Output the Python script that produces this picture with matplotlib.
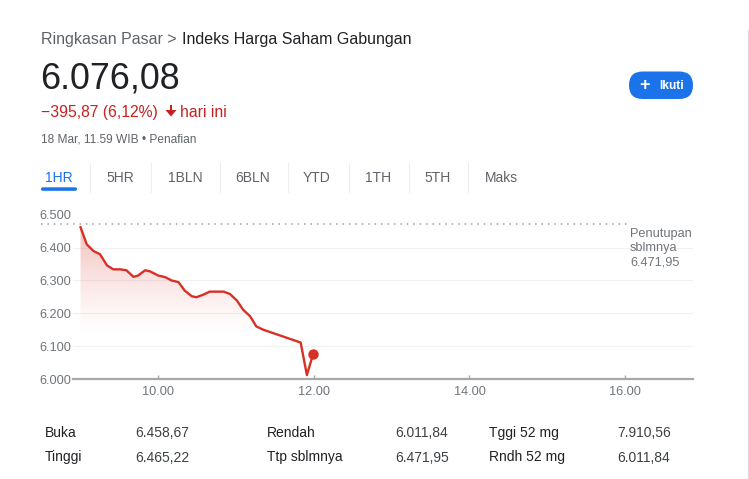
import numpy as np
import matplotlib
matplotlib.use("Agg")
import matplotlib.pyplot as plt
from matplotlib.patches import FancyBboxPatch, Polygon, Rectangle

plt.rcParams['font.family'] = ['Liberation Sans', 'DejaVu Sans']

# ---------------- data ----------------
times = [9.00, 9.08, 9.165, 9.25, 9.34, 9.42, 9.51, 9.59, 9.68, 9.74, 9.83, 9.89,
         10.00, 10.09, 10.17, 10.26, 10.34, 10.43, 10.49, 10.58, 10.66, 10.84, 10.92,
         11.01, 11.09, 11.18, 11.26, 11.35, 11.83, 11.91, 11.99]
values = [6462, 6410, 6390, 6380, 6346, 6334, 6334, 6331, 6311, 6315, 6331, 6328,
          6315, 6310, 6300, 6295, 6269, 6252, 6249, 6257, 6266, 6266, 6259,
          6239, 6211, 6191, 6160, 6150, 6111, 6012, 6076]
prev_close = 6471.95
y_ticks = [6000, 6100, 6200, 6300, 6400, 6500]
y_tick_labels = ['6.000', '6.100', '6.200', '6.300', '6.400', '6.500']
x_ticks = [10, 12, 14, 16]
x_tick_labels = ['10.00', '12.00', '14.00', '16.00']
tabs = ['1HR', '5HR', '1BLN', '6BLN', 'YTD', '1TH', '5TH', 'Maks']
stat_labels_row1 = ['Buka', 'Rendah', 'Tggi 52 mg']
stat_values_row1 = ['6.458,67', '6.011,84', '7.910,56']
stat_labels_row2 = ['Tinggi', 'Ttp sblmnya', 'Rndh 52 mg']
stat_values_row2 = ['6.465,22', '6.471,95', '6.011,84']

RED = '#d93025'
TXT_RED = '#c5221f'
GRAY = '#70757a'
DARK = '#202124'
BLUE = '#1a73e8'

W, H = 749, 479
fig = plt.figure(figsize=(W / 100, H / 100), dpi=100)
fig.patch.set_facecolor('white')

# ---------------- chart ----------------
x0, x1 = 8.903, 16.874
ax = fig.add_axes([73 / W, 1 - 379 / H, (693 - 73) / W, (379 - 214.8) / H])
ax.set_zorder(1)
ax.set_xlim(x0, x1)
ax.set_ylim(6000, 6500)
ax.patch.set_alpha(0)
for s in ['top', 'right', 'left']:
    ax.spines[s].set_visible(False)
ax.spines['bottom'].set_color('#a8a8a8')
ax.spines['bottom'].set_linewidth(1.6)

for yv in y_ticks[1:-1]:
    ax.plot([x0, x1], [yv, yv], color='#f1f1f1', lw=0.8, zorder=0)

ax.set_yticks(y_ticks)
ax.set_yticklabels(y_tick_labels)
ax.tick_params(axis='y', length=0, pad=1.2, labelsize=9.2, labelcolor=GRAY)
ax.set_xticks(x_ticks)
ax.set_xticklabels(x_tick_labels)
ax.tick_params(axis='x', direction='in', length=3, width=1, color='#a8a8a8',
               pad=5, labelsize=9.2, labelcolor=GRAY)

# gradient fill
poly = ax.fill_between(times, values, 6000, facecolor='none', edgecolor='none')
yy = np.linspace(6500, 6000, 300)
alpha = np.clip((yy - 6130) / (6470 - 6130), 0, 1) ** 1.3 * 0.32
grad = np.zeros((300, 2, 4))
grad[..., 0] = 217 / 255
grad[..., 1] = 48 / 255
grad[..., 2] = 37 / 255
grad[..., 3] = alpha[:, None]
im = ax.imshow(grad, extent=[x0, x1, 6000, 6500], aspect='auto', origin='upper', zorder=1)
im.set_clip_path(poly.get_paths()[0], transform=ax.transData)

ax.plot(times, values, color=RED, lw=1.7, zorder=3, solid_joinstyle='round')
ax.plot([times[-1]], [values[-1]], 'o', color=RED, markersize=6.5, zorder=4)

# previous close dotted line
ax.plot([8.492, 16.04], [prev_close, prev_close], color='#9aa0a6', lw=1.1,
        linestyle=(0, (1, 3.2)), clip_on=False, zorder=2)

# ---------------- overlay in pixel coordinates ----------------
ov = fig.add_axes([0, 0, 1, 1])
ov.set_zorder(2)
ov.set_xlim(0, W)
ov.set_ylim(H, 0)
ov.axis('off')

# header
ov.text(41, 44, 'Ringkasan Pasar > ', fontsize=11.5, color='#5f6368', va='baseline', ha='left')
ov.text(181.5, 44, 'Indeks Harga Saham Gabungan', fontsize=11.5, color=DARK, va='baseline', ha='left')
ov.text(40, 88.3, '6.076,08', fontsize=25.8, color=DARK, va='baseline', ha='left')
ov.text(41, 116.5, '\u2212395,87 (6,12%)', fontsize=11.3, color=TXT_RED, va='baseline', ha='left')
ov.add_patch(Rectangle((169.6, 104.5), 2.8, 6.5, color=TXT_RED, lw=0))
ov.add_patch(Polygon([(165.5, 110), (176.5, 110), (171, 116.5)], closed=True, color=TXT_RED, lw=0))
ov.text(180, 116.5, 'hari ini', fontsize=11.3, color=TXT_RED, va='baseline', ha='left')
ov.text(41, 142.3, '18 Mar, 11.59 WIB \u2022 Penafian', fontsize=8.6, color='#5f6368', va='baseline', ha='left')

# follow button
ov.add_patch(FancyBboxPatch((629, 71.5), 64, 27.5, boxstyle='round,pad=0,rounding_size=13.7',
                            facecolor=BLUE, edgecolor='none'))
ov.text(644.5, 85.3, '+', fontsize=13, color='white', va='center', ha='center', fontweight='bold')
ov.text(659, 89.3, 'Ikuti', fontsize=8.6, color='white', va='baseline', ha='left', fontweight='bold')

# tabs
tab_x = [59, 120, 185, 253, 317, 378, 438, 501]
sep_x = [89.5, 151, 219.5, 288, 349, 409, 468]
for name, tx in zip(tabs, tab_x):
    ov.text(tx, 181.8, name, fontsize=10, color=BLUE if name == '1HR' else '#5f6368',
            va='baseline', ha='center')
for sx in sep_x:
    ov.plot([sx, sx], [163, 192], color='#eceef0', lw=0.8)
ov.add_patch(FancyBboxPatch((41, 187.3), 36, 3.5, boxstyle='round,pad=0,rounding_size=1.7',
                            facecolor=BLUE, edgecolor='none'))

# right border
ov.plot([747.5, 747.5], [30, H], color='#dadce0', lw=1.0)

# prev close text
for i, line in enumerate(['Penutupan', 'sblmnya', '6.471,95']):
    ov.text(630, 236.5 + i * 14.7, line, fontsize=9.2, color=GRAY, va='baseline', ha='left')

# stats
col_x = [(45, 135), (267, 395), (489, 617)]
for (lx, vx), lab, val in zip(col_x, stat_labels_row1, stat_values_row1):
    ov.text(lx, 437, lab, fontsize=10, color=DARK, va='baseline', ha='left')
    ov.text(vx, 437, val, fontsize=10, color='#3c4043', va='baseline', ha='left')
for (lx, vx), lab, val in zip(col_x, stat_labels_row2, stat_values_row2):
    ov.text(lx, 461.5, lab, fontsize=10, color=DARK, va='baseline', ha='left')
    ov.text(vx, 461.5, val, fontsize=10, color='#3c4043', va='baseline', ha='left')

fig.savefig('out.png', dpi=100)
